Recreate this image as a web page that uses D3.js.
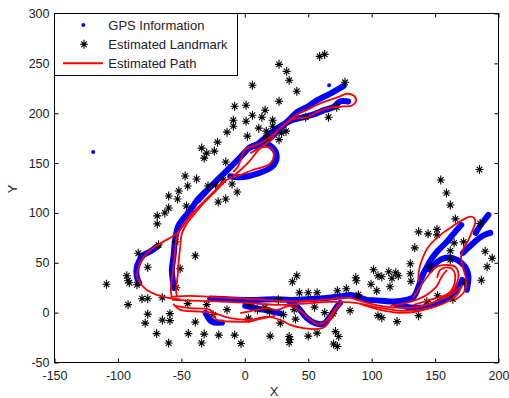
<!DOCTYPE html>
<html><head><meta charset="utf-8">
<script src="https://cdn.jsdelivr.net/npm/d3@7"></script>
<style>body{margin:0;background:#fff}svg{display:block;font-family:"Liberation Sans",Arial,sans-serif}</style>
</head><body>
<svg id="c" width="509" height="398"></svg>
<script>
// ---- tick labels ----
const xTicks = [-150,-100,-50,0,50,100,150,200];
const yTicks = [-50,0,50,100,150,200,250,300];
const xTickLabels = ['-150','-100','-50','0','50','100','150','200'];
const yTickLabels = ['-50','0','50','100','150','200','250','300'];
const legendLabels = ['GPS Information','Estimated Landmark','Estimated Path'];

// ---- GPS information (blue) ----
const gpsUpperOut = [[-36.7,112.8],[-27.3,125.8],[-19.4,135.8],[-11.5,145.8],[-3.6,155.8],[4.3,165.8],[14.5,169.8],[25.3,181.1],[30.5,187.8],[35.8,194.5],[41.1,201.1],[49,206.1],[56.8,212.8],[64.7,217.8],[72.6,223.5],[78,227.5]];
const gpsUpperBack = [[81.5,211.8],[75.2,211.8],[69.7,206.1],[62,202.8],[54.2,198.8],[46.3,196.1],[35.8,192.3],[27.9,186.8],[20,179.8],[13.7,172.8],[8.2,166.8]];
const gpsHook = [[4.3,165.8],[14.5,169.8],[21.6,165.8],[25.1,157.8],[23.2,148.8],[17.7,143.3],[9.8,139.5],[2.7,136.8],[-5.2,135.8],[-11.5,136.8]];
const gpsLeftInner = [[-31.2,121.1],[-37.5,112.8],[-43,102.8],[-48.3,94.5],[-52.5,86.8],[-54.9,72.8],[-56.2,56.1],[-57.5,42.8],[-56.8,32.8],[-56,24.8]];
const gpsLeftOuter = [[-68.3,66.8],[-74.6,61.3],[-79.9,57.8],[-83.2,51.8],[-85.2,44.8],[-85.2,36.8],[-83.2,29.8]];
const gpsBottom = [[-27.3,14.3],[-11.5,13.3],[9.5,12.8],[22.6,13.5],[35.8,12.8],[49,13.5],[62,14.5],[75.2,16.1],[83.1,17.8],[88.4,16.1],[96.3,12.8],[104.1,12.3],[114.6,11.3],[125.1,12.3],[133,15.8],[136.9,25.8],[139.6,35.8],[143.5,45.8],[147.5,54.5],[152.7,62.8],[159.3,71.1],[165.9,81.1],[170.6,87.8]];
const gpsBottomLow = [[0.3,6.8],[9.5,4.3],[17.4,2.3],[27.9,-0.7]];
const gpsBottomLeft = [[-31,0],[-26,-9],[-18,-10]];
const gpsDip = [[35.8,9.8],[41.1,6.1],[49,-5.5],[55.5,-10.5],[62,-11.2],[67.3,-3.9],[72.6,6.1],[75.2,9.8]];
const gpsRightLow = [[118.6,8.8],[133,4.8],[146.1,6.8],[156.6,12.8],[167.2,22.8],[171.4,32.8]];
const gpsRightMid = [[146.1,42.8],[151.7,50.8],[156.6,54.5],[164.5,54.5],[171.1,49.5],[175,42.8],[176.3,36.1],[175,22.8]];
const gpsRightA = [[172,60],[177,66],[184,74],[189,78],[193.5,80]];
const gpsRightB = [[182,80],[186,88],[189,93],[192,98]];
const gpsOutliers = [[-119.5,161],[66.5,228]];

// ---- Estimated landmarks (black) ----
const landmarks = [
[6,228],[-8,207],[1,208],[6,198],[-9,193],[1,192],[-9,187],[2,177],[-14,181],[11,185],
[-21.5,171],[-34,165],[-30,160],[-24,162],[-32,155],[-15,151],[-47,137],[-38,134],[-29,127],[-23,128],
[-17,133],[-10,129],[-6,121],[-45,127],[-52,122],[-60,117],[-53,114],[-15,114],[-46,107],[-60,105],
[-63,100],[-69,97],[-69,89],[-21,111],[-54.5,71],[-68,68],[-84,59.5],[-39,57],[-76.5,45.5],[-51,44],
[-93,37],[-92,32],[-91,30],[-85,28],[-109,28.5],[-54,25],[-81,14],[-76.5,14],[-92,8],[-65,15],
[-45,9],[-30,8],[-76.5,-1.5],[-59,-1],[-65,-7.5],[-59,-8],[-78.5,-10.5],[-39,-9.5],[-69.5,-21],[-44.5,-21],
[-32,-21.5],[-20.5,-22.5],[-8,-22.5],[-60,-30.5],[-34,-30.5],[-3,-31],[-25,-2],[-14,3],
[27,249],[33,242],[35,233],[41,222],[59,257],[63,259],[79,231],[27,212],[16,203],[13.5,196],
[22,193],[22,187],[17,182],[17,175.5],[29,180],[32.5,182],[27,173.5],[48,196],[66,196],[72.5,206],
[41,37],[37.5,31],[43,20],[50,20],[57,20],[73,22],[80,24],[26.5,13],[19.5,1],[30.5,-2],
[28,-10.5],[39,3],[40,-6.5],[55,5.5],[63,0],[69.5,-1],[83,2],[87.5,35],[88,32],[101.5,43],
[105,37],[108,36],[99.5,28.5],[104,22],[113.5,41],[119,40],[121,37],[116,34.5],[114.5,26],[105,-3],
[108,-5],[120,-9],[137,-3],[20,-23.5],[35,-24],[35.5,-27],[35,-30],[50,-23.5],[57,-20.5],[71.5,-19],
[74,-24],[70,-31.5],[73,-34],[16,5],[89.5,18],[4,8],[10,3],[3,-5.5],
[185,143.5],[154.5,133],[159,120],[162,108],[166,94],[137,81],[144.5,79],[151.5,83.5],[151.5,78],[134,65],
[165,70],[172.5,71],[162,62],[185.5,89.5],[189.5,61.5],[195,54.5],[191,46],[186.5,32.5],[173.5,29.5],[162,53],
[130.5,49],[130.5,39],[131,31.5],[146,46],[152,17],[164,13.5],[143.5,11]
];

// ---- Estimated path (red) ----
const pathUpper = [[-11.5,134.8],[-3.6,142.8],[4.3,152.8],[10.6,162.8],[20,172.8],[25.5,181.8],[31,187.8],[38.1,194.3],[49,196.1],[56.8,201.1],[67.3,205.5],[77.6,206.8],[84.4,207.8],[87.8,212.8],[85.7,217.8],[80.5,219.5],[73.6,216.1],[64.7,212.3],[56.8,208.3],[49,203.3],[41.1,198.8],[34.2,191.8],[27.9,184.8],[21.6,177.8],[13.7,170.8],[5.8,166.8],[0.3,163.8],[-2.8,154.8],[-5.2,146.8],[-9.1,140.8]];
const pathHook = [[4.3,159.8],[14.7,166.1],[21.4,164.5],[22.8,156.1],[20,149.5],[14.7,146.1],[5.8,142.8],[-2,138.8],[-9.1,135.8]];
const pathLeftA = [[-11.5,134.8],[-17.8,130.8],[-23.3,122.8],[-29.9,114.5],[-37.8,104.5],[-44.4,94.5],[-49.6,86.1],[-53.5,76.1],[-54.9,62.8],[-56.2,46.1],[-57.5,32.8],[-58.3,22.8],[-57.5,14.8]];
const pathLeftB = [[-14.7,132.8],[-24.7,119.5],[-32.6,109.5],[-40.4,97.8],[-45.6,89.5],[-49.6,79.5],[-50.9,66.1],[-52.3,49.5],[-53,36.1],[-54.1,22.8],[-53.5,15.8]];
const pathLeftOuter = [[-41.5,100.8],[-45.6,92.8],[-53.5,79.5],[-62.7,72.3],[-70.6,66.1],[-77.2,59.5],[-81.7,51.8],[-84.4,42.8],[-84.8,35.8],[-82.4,29.5],[-77.2,22.8],[-69.3,17.8],[-60.4,14.8],[-50.9,13.3]];
const pathBottomA = [[-57.2,15.8],[-43,16.8],[-27.3,15.8],[-3.6,14.3],[22.4,12.3],[38.1,11.3],[61.8,12.8],[75.2,14.8],[83.1,14.8],[88.6,12.8],[96.5,9.8],[106.7,6.8],[122.5,4.8],[138.3,6.1],[154,12.8],[164.3,19.8],[169.8,25.8]];
const pathBottomB = [[-57.2,12.8],[-35.1,11.8],[-11.5,10.8],[12.1,8.8],[27.9,7.8],[43.7,8.8],[67.3,10.8],[87,9.8],[106.7,4.8],[122.5,1.8],[138.3,2.8],[154,7.8],[166.6,16.8],[171.4,27.8]];
const pathBottomC = [[-56.4,8.8],[-50.9,2.8],[-35.1,1.1],[-24.7,-0.5],[-11.5,-5.5],[4.3,-7.2],[17.4,-3.9],[27.9,-7.2],[35.8,-12.2],[46.3,-15.5],[56.8,-16.5],[63.4,-13.9],[68.7,-3.9],[72.6,4.5],[76,9.8]];
const pathBottomD = [[-54.9,6.8],[-43,4.5],[-27.3,2.8],[-22,-7.2],[-11.5,-8.9],[4.3,-8.9],[12.1,-6.2],[24,-3.2]];
const pathBottomE = [[-3.6,-0.5],[9.5,2.8],[17.4,4.5],[25.3,2.8],[35.8,6.8],[43.7,1.8],[51.6,-7.2],[57.9,-11.7],[63.4,-9.2],[69.7,0.8],[73.6,7.8]];
const pathBottomF = [[90.9,8.8],[106.7,2.8],[122.5,-0.2],[134.3,0.8],[146.1,4.8]];
const pathRightOuter = [[136.7,30.8],[137.4,42.8],[139.6,52.8],[144.8,66.1],[154,77.8],[163.3,86.1],[172.4,93.5],[177.7,96.3],[181.1,94.5],[181.6,89.5],[179,81.1],[176.3,72.8],[172.4,64.5],[170.5,56.1],[172.1,44.8],[174.5,32.8],[172.9,20.8],[165.8,12.8]];
const pathRightLoopA = [[133,7.8],[146.1,12.8],[155.3,16.1],[163.2,21.1],[167.2,29.5],[168.4,39.5],[165.8,46.1],[159.3,47.8],[151.4,46.1],[146.1,39.5],[138.3,26.1],[132.8,14.8]];
const pathRightLoopB = [[151.6,34.8],[154,42.8],[159.3,45.3],[164.3,42.8],[165.8,32.8],[161.9,20.8],[154,14.8]];
const pathRightLink = [[114.6,6.8],[130.4,10.8],[142.2,16.8],[150.9,25.8],[155.6,36.8],[159.5,42.8]];

const gpsSegments = [gpsUpperOut,gpsUpperBack,gpsHook,gpsLeftInner,gpsLeftOuter,gpsBottom,gpsBottomLow,gpsBottomLeft,gpsDip,gpsRightLow,gpsRightMid,gpsRightA,gpsRightB];
const pathSegments = [pathUpper,pathHook,pathLeftA,pathLeftB,pathLeftOuter,pathBottomA,pathBottomB,pathBottomC,pathBottomD,pathBottomE,pathBottomF,pathRightOuter,pathRightLoopA,pathRightLoopB,pathRightLink];

// ---- drawing ----
const svg = d3.select('#c');
const L = 54.5, R = 498.5, T = 13.5, B = 362.5;
const x = d3.scaleLinear().domain([-150,200]).range([L,R]);
const y = d3.scaleLinear().domain([-50,300]).range([B,T]);

svg.append('rect').attr('x',0).attr('y',0).attr('width',509).attr('height',398).attr('fill','#fff');

const plot = svg.append('g');
const line = d3.line().x(d=>x(d[0])).y(d=>y(d[1])).curve(d3.curveCatmullRom.alpha(0.5));

plot.selectAll('path.gps').data(gpsSegments).join('path').attr('class','gps')
  .attr('d',line).attr('fill','none').attr('stroke','#0000ff').attr('stroke-width',6)
  .attr('stroke-linecap','round').attr('stroke-linejoin','round');
plot.selectAll('circle.gpsout').data(gpsOutliers).join('circle').attr('class','gpsout')
  .attr('cx',d=>x(d[0])).attr('cy',d=>y(d[1])).attr('r',2).attr('fill','#0000ff');

const asterisk = {draw(ctx,size){const r=Math.sqrt(size)/2, d=r*0.7;
  ctx.moveTo(-r,0);ctx.lineTo(r,0);ctx.moveTo(0,-r-0.5);ctx.lineTo(0,r+0.5);
  ctx.moveTo(-d,-d);ctx.lineTo(d,d);ctx.moveTo(-d,d);ctx.lineTo(d,-d);}};
const sym = d3.symbol().type(asterisk).size(64);

plot.selectAll('path.lm').data(landmarks).join('path').attr('class','lm')
  .attr('transform',d=>`translate(${x(d[0])},${y(d[1])})`).attr('d',sym)
  .attr('fill','none').attr('stroke','#000').attr('stroke-width',1.1);
plot.selectAll('circle.lmc').data(landmarks).join('circle').attr('class','lmc')
  .attr('cx',d=>x(d[0])).attr('cy',d=>y(d[1])).attr('r',1.2).attr('fill','#000');

plot.selectAll('path.est').data(pathSegments).join('path').attr('class','est')
  .attr('d',line).attr('fill','none').attr('stroke','#ff0000').attr('stroke-width',1.8)
  .attr('stroke-linejoin','round');

// axes
const tc = '#222';
const ax = svg.append('g');
ax.append('g').attr('transform',`translate(0,${B})`)
  .call(d3.axisBottom(x).tickValues(xTicks).tickSize(-4).tickPadding(9).tickFormat((d,i)=>xTickLabels[i]));
ax.append('g').attr('transform',`translate(0,${T})`)
  .call(d3.axisTop(x).tickValues(xTicks).tickSize(-4).tickFormat(''));
ax.append('g').attr('transform',`translate(${L},0)`)
  .call(d3.axisLeft(y).tickValues(yTicks).tickSize(-4).tickPadding(5).tickFormat((d,i)=>yTickLabels[i]));
ax.append('g').attr('transform',`translate(${R},0)`)
  .call(d3.axisRight(y).tickValues(yTicks).tickSize(-4).tickFormat(''));
ax.selectAll('.domain').remove();
ax.selectAll('.tick line').attr('stroke','#000');
ax.selectAll('.tick text').attr('fill',tc).attr('font-size','12.5px').attr('font-family','"Liberation Sans",Arial,sans-serif');
svg.append('rect').attr('x',L).attr('y',T).attr('width',R-L).attr('height',B-T)
  .attr('fill','none').attr('stroke','#000').attr('stroke-width',1);

svg.append('text').attr('x',274).attr('y',396).attr('text-anchor','middle')
  .attr('font-size','13px').attr('fill',tc).text('X');
svg.append('text').attr('transform','translate(17,189) rotate(-90)').attr('text-anchor','middle')
  .attr('font-size','13px').attr('fill',tc).text('Y');

// legend
const lg = svg.append('g');
lg.append('rect').attr('x',L).attr('y',T).attr('width',183).attr('height',62)
  .attr('fill','#fff').attr('stroke','#000').attr('stroke-width',1);
const rowY = [25,44.3,63.3];
lg.append('circle').attr('cx',83.3).attr('cy',rowY[0]).attr('r',2).attr('fill','#0000ff');
lg.append('path').attr('transform',`translate(84,${rowY[1]})`).attr('d',sym)
  .attr('fill','none').attr('stroke','#000').attr('stroke-width',1.1);
lg.append('circle').attr('cx',84).attr('cy',rowY[1]).attr('r',1.2).attr('fill','#000');
lg.append('line').attr('x1',63).attr('x2',103).attr('y1',rowY[2]).attr('y2',rowY[2])
  .attr('stroke','#ff0000').attr('stroke-width',2);
lg.selectAll('text').data(legendLabels).join('text')
  .attr('x',108.3).attr('y',(d,i)=>rowY[i]+4.7).attr('font-size','13px').attr('fill',tc).text(d=>d);
</script>
</body></html>
